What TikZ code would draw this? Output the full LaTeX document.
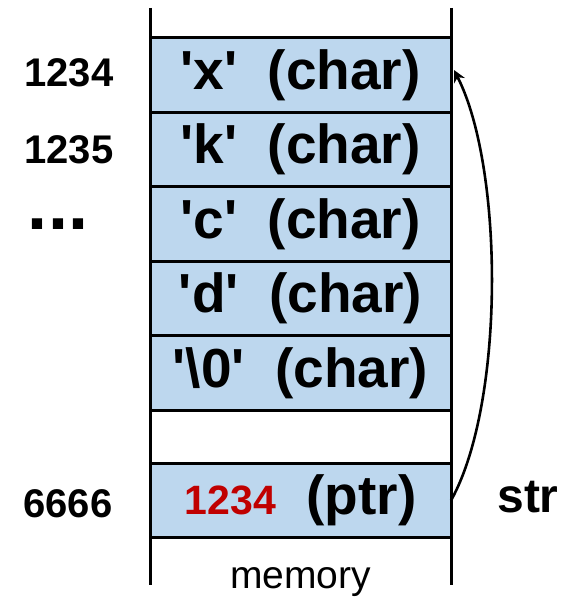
\documentclass[tikz,border=0pt]{standalone}
\usepackage{fontspec}
\setmainfont{Liberation Sans}
\usetikzlibrary{arrows.meta,positioning}
\definecolor{cellfill}{RGB}{189,215,238}
\definecolor{addrred}{RGB}{192,0,0}
\tikzset{cell/.style={draw=black,fill=cellfill,line width=1.5pt,outer sep=0pt,inner sep=0pt,
                      minimum width=150.5pt,minimum height=37.25pt,
                      font=\bfseries\fontsize{27.5}{27.5}\selectfont},
         hole/.style={outer sep=0pt,inner sep=0pt,minimum width=150.5pt,minimum height=26.5pt},
         addr/.style={anchor=base,inner sep=0pt,font=\bfseries\fontsize{20}{20}\selectfont},
         wall/.style={line width=1.5pt},
         ptrarrow/.style={line width=1.3pt,-{Stealth[length=6pt,width=6pt]}}}
\newcommand{\q}{\textquotesingle}

\begin{document}
\begin{tikzpicture}[x=0.5pt,y=-0.5pt]
  \useasboundingbox (0,0) rectangle (574,599);
  % the memory column
  \draw[wall] (150,8)--(150,585);
  \draw[wall] (451,8)--(451,585);
  \node[cell] (cx) at (300.5,75) {\q x\q\ \ (char)};
  \node[cell,below=0pt of cx] (ck) {\q k\q\ \ (char)};
  \node[cell,below=0pt of ck] (cc) {\q c\q\ \ (char)};
  \node[cell,below=0pt of cc] (cd) {\q d\q\ \ (char)};
  \node[cell,below=0pt of cd] (cnul) {\q\textbackslash 0\q\ \ (char)};
  \node[hole,below=0pt of cnul] (gap) {};
  \node[cell,below=0pt of gap] (cptr) {{\color{addrred}\fontsize{20.5}{20.5}\selectfont 1234}\ \ (ptr)};
  \node[anchor=base,font=\fontsize{19.5}{19.5}\selectfont] (mem) at (300.5,588) {memory};
  % addresses
  \node[addr] (a1) at (69,87) {1234};
  \node[addr] (a2) at (69,163) {1235};
  \node[anchor=base,inner sep=0pt,font=\bfseries\fontsize{36}{36}\selectfont] (dots) at (58,229) {...};
  \node[addr] (a3) at (68,517) {6666};
  \node[addr,font=\bfseries\fontsize{24}{24}\selectfont] (var) at (528,512) {str};
  % pointer back to the first char
  \draw[ptrarrow] (cptr.east) .. controls +(54,-97) and +(50,98) .. ([shift={(1.5pt,2.5pt)}]cx.east);
\end{tikzpicture}
\end{document}
